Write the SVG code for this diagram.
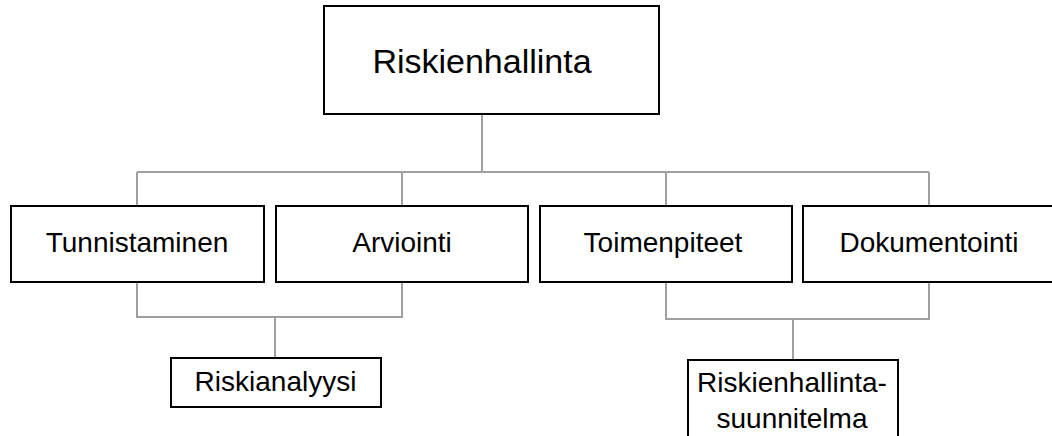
<svg xmlns="http://www.w3.org/2000/svg" width="1052" height="436" viewBox="0 0 1052 436">
<style>
.box{fill:#fff;stroke:#000;stroke-width:2}
.ln{fill:none;stroke:#a0a0a0;stroke-width:2}
text{font-family:"Liberation Sans",Arial,sans-serif;fill:#000;text-anchor:middle}
.t{font-size:28px}
</style>
<rect width="1052" height="436" fill="#fff"/>
<g id="connectors">
<path class="ln" d="M482 114V172M137 172H929M137 172V206M402 172V206M666 172V206M929 172V206"/>
<path class="ln" d="M137 282V317H402V282M275 317V358"/>
<path class="ln" d="M666 282V319H929V282M793 319V360"/>
</g>
<g id="riskienhallinta">
<rect class="box" x="324" y="6" width="335" height="108"/>
<text x="482" y="73" font-size="34">Riskienhallinta</text>
</g>
<g id="tunnistaminen">
<rect class="box" x="11" y="206" width="253" height="76"/>
<text class="t" x="137" y="252">Tunnistaminen</text>
</g>
<g id="arviointi">
<rect class="box" x="276" y="206" width="252" height="76"/>
<text class="t" x="402" y="252">Arviointi</text>
</g>
<g id="toimenpiteet">
<rect class="box" x="540" y="206" width="252" height="76"/>
<text class="t" x="663" y="252">Toimenpiteet</text>
</g>
<g id="dokumentointi">
<rect class="box" x="803" y="206" width="260" height="76"/>
<text class="t" x="929" y="252">Dokumentointi</text>
</g>
<g id="riskianalyysi">
<rect class="box" x="171" y="358" width="210" height="49"/>
<text class="t" x="275.5" y="391">Riskianalyysi</text>
</g>
<g id="suunnitelma">
<rect class="box" x="688" y="360" width="210" height="90"/>
<text class="t" x="792" y="392">Riskienhallinta-</text>
<text class="t" x="792" y="428">suunnitelma</text>
</g>
</svg>
